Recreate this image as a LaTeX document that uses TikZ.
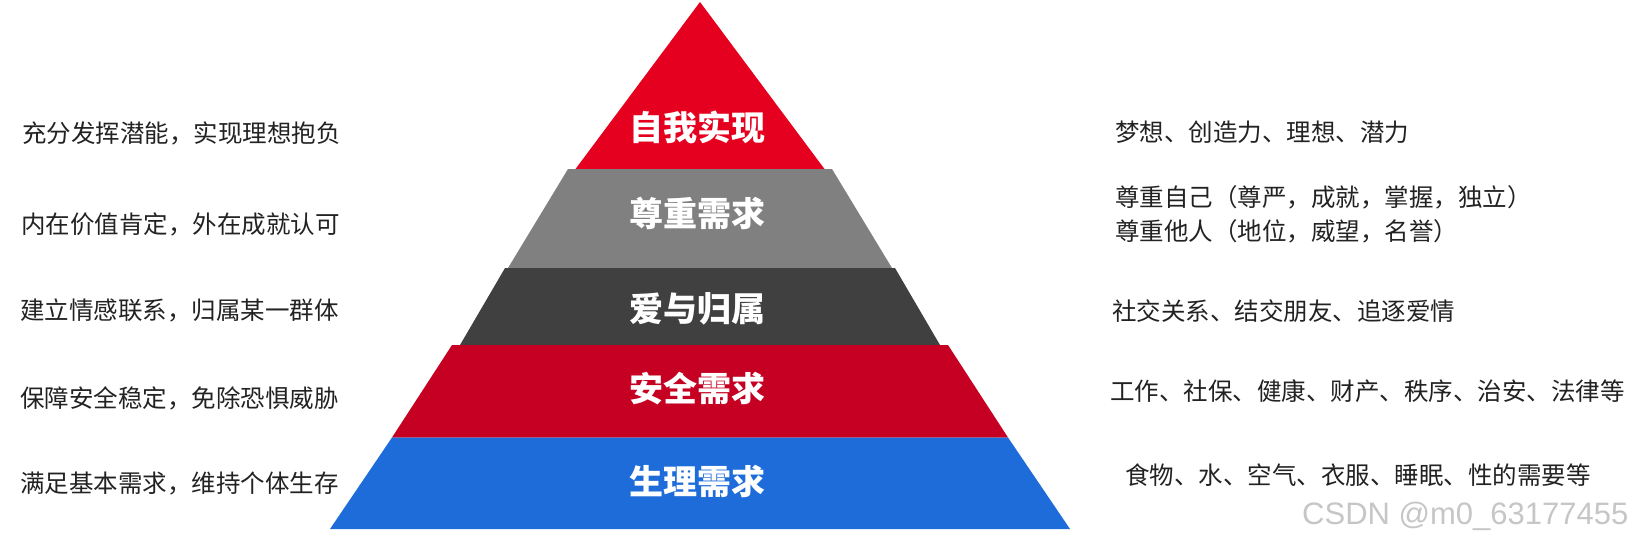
\documentclass[tikz,border=0pt]{standalone}
\usepackage{fontspec}
\newfontfamily\cjk{Noto Sans CJK SC}
\newfontfamily\wmfont{Liberation Sans}
\definecolor{topred}{RGB}{230,0,32}
\definecolor{midgray}{RGB}{128,128,128}
\definecolor{darklayer}{RGB}{64,64,64}
\definecolor{safered}{RGB}{197,0,35}
\definecolor{bluelayer}{RGB}{30,108,217}
\definecolor{txt}{RGB}{34,34,34}
\begin{document}
\begin{tikzpicture}[x=1pt,y=-1pt,
  lefttxt/.style={anchor=base west,inner sep=0pt,text=txt,font=\cjk\fontsize{24.5}{33}\selectfont},
  righttxt/.style={anchor=base west,inner sep=0pt,text=txt,align=left,font=\cjk\fontsize{24.5}{33}\selectfont},
  layerlabel/.style={anchor=base,inner sep=0pt,text=white,font=\cjk\bfseries\fontsize{34}{34}\selectfont},
  watermark/.style={anchor=base west,inner sep=0pt,text=gray!45,font=\wmfont\fontsize{31}{31}\selectfont}]
\useasboundingbox (0,0) rectangle (1633,543);
% pyramid layers
\fill[topred] (700,2) -- (824.5,169) -- (575.5,169) -- cycle;
\fill[midgray] (568,169) -- (832,169) -- (892,268) -- (508,268) -- cycle;
\fill[darklayer] (505,268) -- (895,268) -- (940,345) -- (460,345) -- cycle;
\fill[safered] (452,345) -- (948,345) -- (1008,437.5) -- (392,437.5) -- cycle;
\fill[bluelayer] (392,437.5) -- (1008,437.5) -- (1070,529) -- (330,529) -- cycle;
% layer labels
\node[layerlabel] (l1) at (697,140) {自我实现};
\node[layerlabel] (l2) at (697,226) {尊重需求};
\node[layerlabel] (l3) at (697,321) {爱与归属};
\node[layerlabel] (l4) at (697,401) {安全需求};
\node[layerlabel] (l5) at (697,494) {生理需求};
% left texts
\node[lefttxt] (a1) at (22,142) {充分发挥潜能，实现理想抱负};
\node[lefttxt] (a2) at (21,233) {内在价值肯定，外在成就认可};
\node[lefttxt] (a3) at (20,319) {建立情感联系，归属某一群体};
\node[lefttxt] (a4) at (20,407) {保障安全稳定，免除恐惧威胁};
\node[lefttxt] (a5) at (20,492) {满足基本需求，维持个体生存};
% right texts
\node[righttxt] (b1) at (1115,141) {梦想、创造力、理想、潜力};
\node[righttxt] (b2a) at (1115,206) {尊重自己（尊严，成就，掌握，独立）};
\node[righttxt] (b2b) at (1115,240) {尊重他人（地位，威望，名誉）};
\node[righttxt] (b3) at (1112,320) {社交关系、结交朋友、追逐爱情};
\node[righttxt] (b4) at (1110,400) {工作、社保、健康、财产、秩序、治安、法律等};
\node[righttxt] (b5) at (1125,484) {食物、水、空气、衣服、睡眠、性的需要等};
% watermark
\node[watermark] (wm) at (1302,524) {CSDN @m0\_63177455};
\end{tikzpicture}
\end{document}
